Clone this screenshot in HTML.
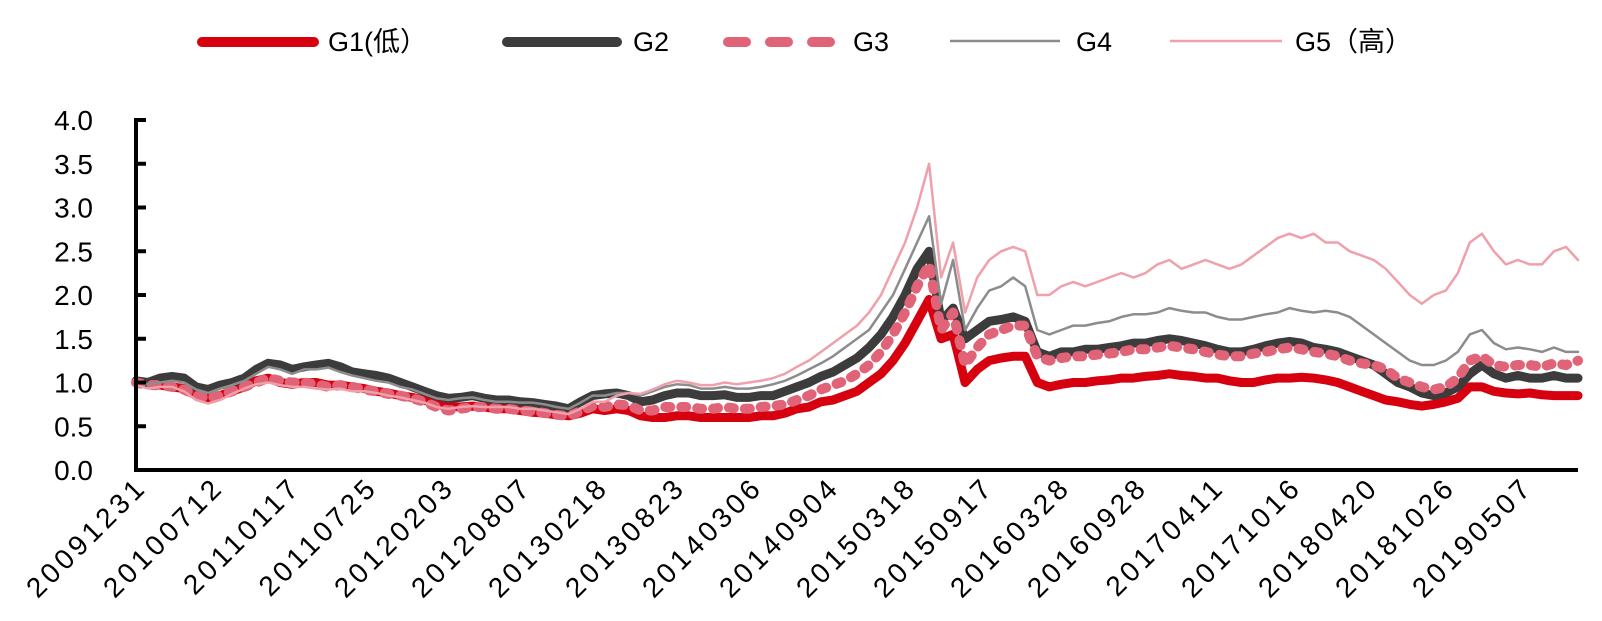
<!DOCTYPE html>
<html><head><meta charset="utf-8"><style>
html,body{margin:0;padding:0;background:#fff;}
svg{display:block;font-family:"Liberation Sans","Noto Sans CJK SC",sans-serif;}
</style></head><body>
<svg id="chart" width="1602" height="621" viewBox="0 0 1602 621">
<g id="legend">
 <g><line x1="202" y1="42" x2="314" y2="42" stroke="#D7000F" stroke-width="10" stroke-linecap="round"/><text x="328" y="51" font-size="27">G1(低）</text></g>
 <g><line x1="507" y1="42" x2="617" y2="42" stroke="#3C3C3C" stroke-width="10" stroke-linecap="round"/><text x="633" y="51" font-size="27">G2</text></g>
 <g><line x1="728" y1="42" x2="834" y2="42" stroke="#E06377" stroke-width="10" stroke-linecap="round" stroke-dasharray="18 24"/><text x="853" y="51" font-size="27">G3</text></g>
 <g><line x1="950" y1="41" x2="1060" y2="41" stroke="#8C8C8C" stroke-width="2.5"/><text x="1076" y="51" font-size="27">G4</text></g>
 <g><line x1="1170" y1="41" x2="1282" y2="41" stroke="#F0A0AA" stroke-width="2.5"/><text x="1295" y="51" font-size="27">G5（高）</text></g>
</g>
<g id="series"></g>
<g id="axes"></g>
</svg>
<script>
const yTicks=[0,0.5,1,1.5,2,2.5,3,3.5,4];
const yTickLabels=["0.0","0.5","1.0","1.5","2.0","2.5","3.0","3.5","4.0"];
const xTickLabels=["20091231","20100712","20110117","20110725","20120203","20120807","20130218","20130823","20140306","20140904","20150318","20150917","20160328","20160928","20170411","20171016","20180420","20181026","20190507"];
const g1=[1.0,0.98,0.97,0.95,0.93,0.85,0.82,0.85,0.9,0.95,
1.02,1.05,1.0,0.98,1.0,1.0,0.97,0.97,0.95,0.93,
0.9,0.88,0.85,0.83,0.8,0.75,0.73,0.72,0.73,0.72,
0.7,0.7,0.68,0.66,0.65,0.63,0.62,0.65,0.7,0.68,
0.7,0.68,0.62,0.6,0.6,0.62,0.62,0.6,0.6,0.6,
0.6,0.6,0.62,0.62,0.65,0.7,0.72,0.78,0.8,0.85,
0.9,1.0,1.1,1.25,1.45,1.7,1.95,1.5,1.55,1.0,
1.15,1.25,1.28,1.3,1.3,1.0,0.95,0.98,1.0,1.0,
1.02,1.03,1.05,1.05,1.07,1.08,1.1,1.08,1.07,1.05,
1.05,1.02,1.0,1.0,1.03,1.05,1.05,1.06,1.05,1.03,
1.0,0.95,0.9,0.85,0.8,0.78,0.75,0.73,0.75,0.78,
0.82,0.95,0.95,0.9,0.88,0.87,0.88,0.86,0.85,0.85,0.85];
const g2=[1.02,1.0,1.05,1.07,1.05,0.95,0.92,0.97,1.0,1.05,
1.15,1.22,1.2,1.15,1.18,1.2,1.22,1.18,1.12,1.1,
1.08,1.05,1.0,0.95,0.9,0.85,0.82,0.83,0.85,0.82,
0.8,0.8,0.78,0.77,0.75,0.73,0.7,0.78,0.85,0.87,
0.88,0.85,0.78,0.8,0.85,0.88,0.88,0.85,0.85,0.86,
0.83,0.83,0.85,0.85,0.9,0.95,1.0,1.07,1.12,1.2,
1.28,1.4,1.55,1.75,2.0,2.3,2.5,1.7,1.85,1.5,
1.6,1.7,1.72,1.75,1.7,1.35,1.3,1.35,1.35,1.38,
1.38,1.4,1.42,1.45,1.45,1.48,1.5,1.48,1.45,1.42,
1.38,1.35,1.35,1.38,1.42,1.45,1.47,1.45,1.4,1.38,
1.35,1.3,1.25,1.2,1.1,1.0,0.95,0.88,0.85,0.88,
0.95,1.1,1.2,1.1,1.05,1.08,1.05,1.05,1.08,1.05,1.05];
const g3=[1.0,0.97,0.97,0.95,0.92,0.85,0.82,0.85,0.9,0.95,
1.0,1.05,1.02,1.0,1.0,0.98,0.95,0.97,0.95,0.92,
0.9,0.87,0.85,0.82,0.78,0.72,0.68,0.7,0.72,0.72,
0.7,0.7,0.68,0.67,0.65,0.63,0.62,0.67,0.73,0.72,
0.75,0.74,0.68,0.68,0.72,0.72,0.72,0.7,0.7,0.72,
0.7,0.7,0.72,0.73,0.75,0.8,0.85,0.92,0.97,1.02,
1.1,1.2,1.35,1.55,1.8,2.1,2.35,1.6,1.8,1.2,
1.4,1.55,1.6,1.65,1.65,1.3,1.25,1.28,1.3,1.3,
1.32,1.33,1.35,1.38,1.38,1.4,1.42,1.4,1.38,1.35,
1.32,1.3,1.3,1.33,1.35,1.38,1.4,1.38,1.35,1.33,
1.3,1.25,1.22,1.2,1.15,1.05,1.0,0.95,0.92,0.95,
1.05,1.25,1.3,1.2,1.18,1.2,1.2,1.18,1.22,1.2,1.25];
const g4=[1.0,0.98,1.0,1.02,1.0,0.92,0.88,0.93,0.97,1.02,
1.1,1.18,1.15,1.1,1.15,1.15,1.17,1.12,1.08,1.05,
1.02,1.0,0.95,0.92,0.87,0.82,0.8,0.82,0.83,0.8,
0.78,0.78,0.77,0.77,0.75,0.72,0.7,0.77,0.85,0.85,
0.88,0.88,0.85,0.9,0.95,0.98,0.97,0.93,0.93,0.95,
0.93,0.93,0.95,0.98,1.02,1.08,1.15,1.22,1.3,1.4,
1.5,1.6,1.8,2.0,2.3,2.6,2.9,1.9,2.4,1.6,
1.85,2.05,2.1,2.2,2.1,1.6,1.55,1.6,1.65,1.65,
1.68,1.7,1.75,1.78,1.78,1.8,1.85,1.82,1.8,1.8,
1.75,1.72,1.72,1.75,1.78,1.8,1.85,1.82,1.8,1.82,
1.8,1.75,1.65,1.55,1.45,1.35,1.25,1.2,1.2,1.25,
1.35,1.55,1.6,1.45,1.38,1.4,1.38,1.35,1.4,1.35,1.35];
const g5=[0.97,0.93,0.95,0.95,0.9,0.8,0.76,0.8,0.87,0.93,
0.98,1.0,0.97,0.95,0.95,0.93,0.92,0.93,0.9,0.9,
0.88,0.85,0.83,0.8,0.77,0.72,0.7,0.72,0.73,0.72,
0.72,0.72,0.7,0.7,0.68,0.66,0.64,0.7,0.78,0.78,
0.85,0.88,0.87,0.92,0.98,1.02,1.0,0.97,0.97,1.0,
0.98,1.0,1.02,1.05,1.1,1.18,1.25,1.35,1.45,1.55,
1.65,1.8,2.0,2.3,2.6,3.0,3.5,2.2,2.6,1.8,
2.2,2.4,2.5,2.55,2.5,2.0,2.0,2.1,2.15,2.1,
2.15,2.2,2.25,2.2,2.25,2.35,2.4,2.3,2.35,2.4,
2.35,2.3,2.35,2.45,2.55,2.65,2.7,2.65,2.7,2.6,
2.6,2.5,2.45,2.4,2.3,2.15,2.0,1.9,2.0,2.05,
2.25,2.6,2.7,2.5,2.35,2.4,2.35,2.35,2.5,2.55,2.4];

const NS="http://www.w3.org/2000/svg";
const X0=136,X1=1578,Y0=470,YT=120,VMAX=4;
function yScale(v){return Y0-(v/VMAX)*(Y0-YT);}
function xScale(i,n){return X0+i*(X1-X0)/(n-1);}
function xTickPos(i){return 140+i*77;}
const seriesG=document.getElementById('series');
const axesG=document.getElementById('axes');
const specs=[
 {d:g1,name:'series-g1',c:'#D7000F',w:9,dash:null},
 {d:g2,name:'series-g2',c:'#3C3C3C',w:9,dash:null},
 {d:g3,name:'series-g3',c:'#E06377',w:10,dash:'5 11'},
 {d:g4,name:'series-g4',c:'#8C8C8C',w:2.5,dash:null},
 {d:g5,name:'series-g5',c:'#F0A0AA',w:2.5,dash:null}
];
specs.forEach(s=>{
 const p=document.createElementNS(NS,'polyline');
 p.setAttribute('points',s.d.map((v,i)=>xScale(i,s.d.length).toFixed(1)+','+yScale(v).toFixed(1)).join(' '));
 p.setAttribute('fill','none');
 p.setAttribute('stroke',s.c);
 p.setAttribute('stroke-width',s.w);
 p.setAttribute('stroke-linejoin','round');
 p.setAttribute('stroke-linecap','round');
 if(s.dash)p.setAttribute('stroke-dasharray',s.dash);
 
 
 seriesG.appendChild(p);
});
const ya=document.createElementNS(NS,'line');
ya.setAttribute('x1',X0);ya.setAttribute('x2',X0);ya.setAttribute('y1',YT-2);ya.setAttribute('y2',Y0+2);
ya.setAttribute('stroke','#000');ya.setAttribute('stroke-width','4');


axesG.appendChild(ya);
const xa=document.createElementNS(NS,'line');
xa.setAttribute('x1',X0-2);xa.setAttribute('x2',X1);xa.setAttribute('y1',Y0);xa.setAttribute('y2',Y0);
xa.setAttribute('stroke','#000');xa.setAttribute('stroke-width','4');


axesG.appendChild(xa);
yTicks.forEach((v,i)=>{
 const t=document.createElementNS(NS,'line');
 t.setAttribute('x1',X0);t.setAttribute('x2',X0+10);t.setAttribute('y1',yScale(v));t.setAttribute('y2',yScale(v));
 t.setAttribute('stroke','#000');t.setAttribute('stroke-width','4');
 
 
 axesG.appendChild(t);
 const l=document.createElementNS(NS,'text');
 l.setAttribute('x',93);l.setAttribute('y',yScale(v)+10);
 l.setAttribute('text-anchor','end');l.setAttribute('font-size','28');
 l.textContent=yTickLabels[i];
 
 
 axesG.appendChild(l);
});
xTickLabels.forEach((s,i)=>{
 const x=xTickPos(i),y=480;
 const l=document.createElementNS(NS,'text');
 l.setAttribute('x',x);l.setAttribute('y',y);
 l.setAttribute('text-anchor','end');l.setAttribute('font-size','28');
 l.setAttribute('letter-spacing','4');
 l.setAttribute('transform','rotate(-45 '+x+' '+y+') translate(0 12)');
 l.textContent=s;
 
 
 axesG.appendChild(l);
});
</script>
</body></html>
